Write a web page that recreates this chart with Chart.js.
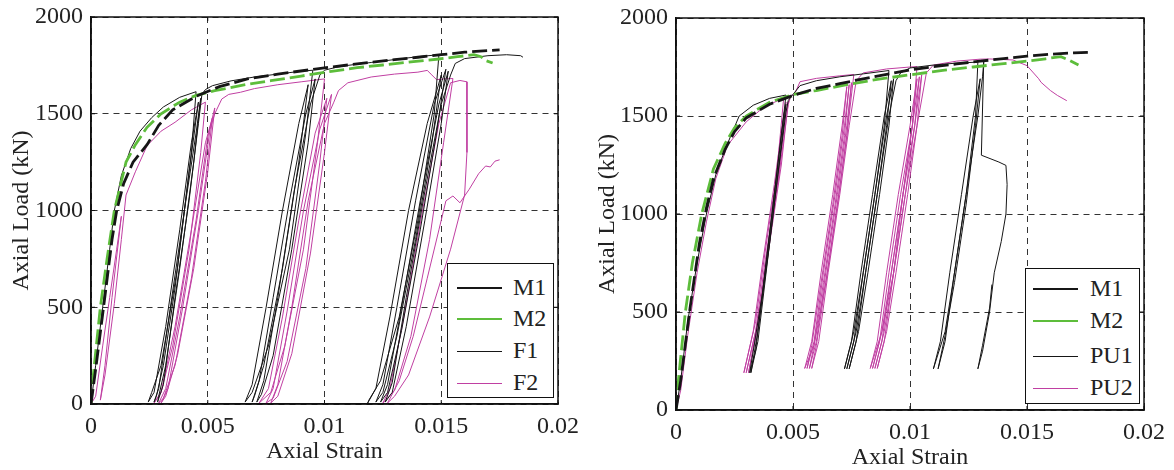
<!DOCTYPE html>
<html>
<head>
<meta charset="utf-8">
<script src="https://cdn.jsdelivr.net/npm/chart.js@4.4.0/dist/chart.umd.min.js"></script>
<style>
    body { margin: 0; background: #fff; font-family: "Liberation Serif", "Times New Roman", serif; }
    #wrap { position: relative; width: 1174px; height: 470px; overflow: hidden; }
    #wrap canvas { position: absolute; top: 0; }
    .legend { position: absolute; border: 1.5px solid #111; background: #fff; box-sizing: border-box; }
    .legend .row { position: absolute; left: 0; height: 0; }
    .legend .swatch { position: absolute; top: 0; }
    .legend .label { position: absolute; top: -14px; font-size: 24px; line-height: 27px; color: #222; white-space: nowrap; }
</style>
</head>
<body>
<div id="wrap">
    <canvas id="leftChart" width="580" height="470" style="left:0"></canvas>
    <canvas id="rightChart" width="587" height="470" style="left:587px"></canvas>
    <div class="legend" id="leftLegend" style="left:447px;top:263px;width:107px;height:135px"></div>
    <div class="legend" id="rightLegend" style="left:1025px;top:268px;width:115px;height:136px"></div>
</div>
<script>
// tick labels
const strainTicks = ['0', '0.005', '0.01', '0.015', '0.02'];
const loadTicks = ['0', '500', '1000', '1500', '2000'];
const legendLeft = ['M1', 'M2', 'F1', 'F2'];
const legendRight = ['M1', 'M2', 'PU1', 'PU2'];

// left panel: [axial strain, axial load kN]
const leftM1 = [[0,0],[0.0002,180],[0.0006,560],[0.0009,850],[0.0011,1000],[0.0014,1140],[0.0018,1250],[0.0024,1340],[0.0029,1440],[0.0035,1520],[0.0045,1590],[0.0055,1640],[0.0067,1680],[0.008,1705],[0.0096,1731],[0.011,1752],[0.012,1766],[0.013,1780],[0.014,1792],[0.015,1805],[0.016,1818],[0.017,1826],[0.0175,1830]];
const leftM2 = [[0,0],[0.0001,150],[0.0004,500],[0.0007,760],[0.001,1000],[0.0015,1250],[0.0019,1340],[0.0024,1430],[0.003,1500],[0.0038,1560],[0.0045,1595],[0.0053,1619],[0.0065,1648],[0.0077,1671],[0.009,1695],[0.0103,1719],[0.0114,1738],[0.0125,1752],[0.0137,1768],[0.0149,1783],[0.0157,1795],[0.0164,1805],[0.0167,1795],[0.0169,1775],[0.0172,1762]];
const leftF1 = [[0,0],[0.0002,200],[0.0005,500],[0.0008,800],[0.001,1000],[0.0013,1180],[0.0017,1320],[0.0021,1410],[0.0026,1480],[0.0031,1535],[0.0038,1585],[0.0045,1614],
    [0.0043,1300],[0.0037,700],[0.003,200],[0.0026,60],[0.00245,10],
    [0.0027,60],[0.0032,400],[0.0038,900],[0.0043,1350],[0.0046,1560],
    [0.0042,1200],[0.0036,600],[0.0031,200],[0.0028,40],[0.0027,10],
    [0.0029,80],[0.0034,500],[0.004,1000],[0.0045,1400],[0.0047,1580],
    [0.0044,1250],[0.0038,700],[0.0032,200],[0.0029,40],[0.00285,10],
    [0.0031,100],[0.0036,550],[0.0042,1050],[0.0046,1450],[0.00475,1600],
    [0.0049,1625],[0.0052,1645],[0.006,1670],[0.007,1690],[0.008,1705],[0.009,1720],[0.0095,1725],
    [0.0092,1400],[0.0085,800],[0.0076,300],[0.0069,60],[0.0066,10],
    [0.0069,100],[0.0075,500],[0.0082,1000],[0.0089,1450],[0.0093,1650],
    [0.0089,1250],[0.0082,700],[0.0074,200],[0.007,40],[0.0069,10],
    [0.0072,120],[0.0078,550],[0.0085,1050],[0.0092,1500],[0.0096,1680],
    [0.0093,1350],[0.0086,800],[0.0078,250],[0.0073,50],[0.0071,10],
    [0.0074,120],[0.008,550],[0.0087,1100],[0.0094,1550],[0.0098,1700],
    [0.01,1725],[0.0105,1740],[0.011,1750],[0.012,1765],[0.013,1780],[0.014,1795],[0.0149,1805],
    [0.0147,1500],[0.014,950],[0.0132,450],[0.0124,120],[0.0119,20],[0.01185,5],
    [0.0122,80],[0.0128,450],[0.0136,1000],[0.0144,1450],[0.015,1700],
    [0.0146,1350],[0.0139,850],[0.0131,350],[0.0125,60],[0.0122,10],
    [0.0125,100],[0.0131,500],[0.0139,1050],[0.0147,1550],[0.0152,1730],
    [0.0148,1400],[0.0141,900],[0.0133,380],[0.0127,60],[0.0124,10],
    [0.0127,100],[0.0133,500],[0.0141,1050],[0.0149,1550],[0.0153,1720],
    [0.015,1450],[0.0143,950],[0.0135,400],[0.0129,60],[0.0126,10],
    [0.0129,110],[0.0135,550],[0.0143,1100],[0.015,1550],[0.0154,1700],
    [0.0156,1760],[0.016,1785],[0.017,1800],[0.0178,1805],[0.0184,1800],[0.0185,1792]];
const leftF2 = [[0,0],[0.0002,40],[0.0005,300],[0.0008,550],[0.0011,800],[0.0013,970],
    [0.0009,550],[0.0006,200],[0.0004,20],[0.0006,150],[0.001,520],[0.0013,850],[0.0015,1080],
    [0.0019,1200],[0.0024,1335],[0.003,1410],[0.0036,1456],[0.0043,1520],[0.0049,1560],
    [0.0047,1300],[0.0042,800],[0.0035,300],[0.003,60],[0.0027,5],
    [0.003,60],[0.0036,400],[0.0043,900],[0.0049,1350],[0.0052,1480],
    [0.0049,1150],[0.0043,650],[0.0036,200],[0.0031,30],[0.0029,5],
    [0.0032,80],[0.0038,450],[0.0045,950],[0.005,1380],[0.0053,1530],
    [0.005,1200],[0.0044,700],[0.0037,250],[0.0032,40],[0.003,5],
    [0.0033,80],[0.0039,480],[0.0046,1000],[0.0051,1420],[0.0053,1500],
    [0.0056,1576],[0.0059,1600],[0.0064,1611],[0.007,1630],[0.008,1650],[0.009,1665],[0.01,1680],
    [0.0097,1350],[0.0091,800],[0.0083,300],[0.0077,60],[0.0072,5],
    [0.0076,80],[0.0082,450],[0.0089,950],[0.0096,1400],[0.0101,1580],
    [0.0098,1250],[0.0092,700],[0.0084,220],[0.0078,30],[0.0075,5],
    [0.0078,80],[0.0084,480],[0.0091,1000],[0.0098,1420],[0.0103,1600],
    [0.01,1300],[0.0094,780],[0.0086,260],[0.008,40],[0.0077,5],
    [0.008,100],[0.0086,500],[0.0093,1050],[0.01,1450],[0.0104,1560],
    [0.0106,1620],[0.011,1660],[0.012,1690],[0.013,1705],[0.014,1715],[0.0144,1724],[0.0146,1700],[0.0148,1676],[0.0151,1680],[0.0155,1682],
    [0.0151,1350],[0.0145,850],[0.0137,350],[0.013,70],[0.0125,5],
    [0.0128,80],[0.0134,450],[0.0142,1000],[0.0149,1450],[0.0154,1660],
    [0.0158,1672],[0.0161,1665],[0.0161,1300],[0.016,1080],
    [0.0154,800],[0.0145,450],[0.0136,150],[0.013,40],[0.0127,5],
    [0.0132,120],[0.0138,350],[0.0144,650],[0.0149,900],[0.0152,1050],[0.0155,1075],[0.0158,1040],[0.0162,1110],[0.0166,1190],[0.0169,1230],[0.0171,1225],[0.0173,1255],[0.0175,1262]];

// right panel
const rightM1 = [[0,0],[0.0002,150],[0.0006,520],[0.001,850],[0.0013,1030],[0.0016,1180],[0.0021,1330],[0.0025,1420],[0.003,1490],[0.004,1560],[0.005,1605],[0.006,1641],[0.007,1665],[0.008,1690],[0.009,1712],[0.01,1735],[0.011,1752],[0.012,1766],[0.013,1780],[0.014,1793],[0.015,1805],[0.016,1815],[0.017,1822],[0.0176,1825]];
const rightM2 = [[0,0],[0.0001,150],[0.0004,500],[0.0007,750],[0.0011,1000],[0.0016,1230],[0.0021,1360],[0.0025,1440],[0.003,1500],[0.004,1570],[0.005,1610],[0.006,1630],[0.0073,1660],[0.0086,1687],[0.01,1710],[0.0114,1733],[0.0127,1750],[0.0139,1766],[0.015,1780],[0.0158,1792],[0.01645,1803],[0.0168,1785],[0.0172,1760]];
const rightPU1 = [[0,0],[0.0002,150],[0.0005,450],[0.0009,750],[0.0013,1000],[0.0017,1200],[0.0021,1330],[0.0027,1500],[0.0033,1555],[0.004,1590],[0.0047,1607],
    [0.0045,1400],[0.0041,1000],[0.0037,600],[0.0033,300],[0.00315,190],
    [0.0034,300],[0.0038,700],[0.0042,1100],[0.0046,1500],[0.0047,1560],
    [0.0044,1250],[0.004,850],[0.0035,400],[0.0032,190],
    [0.0035,350],[0.0039,750],[0.0043,1150],[0.0047,1520],[0.0048,1580],
    [0.005,1610],[0.0053,1655],[0.006,1680],[0.007,1700],[0.008,1715],[0.0091,1732],
    [0.0089,1450],[0.0085,1100],[0.008,700],[0.0076,400],[0.0072,210],
    [0.0075,350],[0.0079,700],[0.0084,1100],[0.0089,1500],[0.0092,1680],
    [0.009,1450],[0.0086,1100],[0.0081,700],[0.0077,400],[0.0073,210],
    [0.0076,350],[0.008,700],[0.0085,1100],[0.009,1500],[0.0093,1690],
    [0.0091,1450],[0.0087,1100],[0.0082,700],[0.0078,400],[0.0074,210],
    [0.0077,350],[0.0081,700],[0.0086,1100],[0.0091,1500],[0.0094,1680],
    [0.0096,1720],[0.01,1745],[0.011,1760],[0.012,1770],[0.0129,1775],
    [0.0128,1500],[0.0124,1100],[0.0119,700],[0.0115,400],[0.011,210],
    [0.0113,350],[0.0117,700],[0.0122,1100],[0.0127,1500],[0.013,1690],
    [0.0128,1450],[0.0124,1050],[0.0119,650],[0.0115,380],[0.0112,210],
    [0.0115,350],[0.0119,700],[0.0124,1100],[0.0129,1500],[0.0131,1700],[0.01315,1775],
    [0.01305,1300],[0.0138,1265],[0.0141,1248],[0.01415,1150],[0.0141,1000],[0.0139,860],[0.0136,700],[0.0134,500],[0.0131,300],[0.0129,210],[0.0131,330],[0.0134,520],[0.0135,640]];
const rightPU2 = [[0,0],[0.0002,100],[0.0005,380],[0.0009,700],[0.0013,960],[0.0017,1180],[0.0022,1350],[0.003,1470],[0.0038,1550],[0.0046,1590],
    [0.0043,1200],[0.0038,800],[0.0034,450],[0.0029,190],
    [0.0033,400],[0.0037,750],[0.0042,1150],[0.0046,1500],[0.0047,1570],
    [0.0044,1200],[0.0039,800],[0.0035,450],[0.003,190],
    [0.0034,400],[0.0038,750],[0.0043,1150],[0.0047,1520],[0.0048,1575],
    [0.0045,1250],[0.004,850],[0.0035,450],[0.0031,190],
    [0.0035,420],[0.0039,780],[0.0044,1200],[0.0048,1560],[0.0049,1600],
    [0.0051,1620],[0.0053,1675],[0.006,1692],[0.007,1705],[0.0076,1712],
    [0.0073,1400],[0.0069,1050],[0.0064,650],[0.0059,330],[0.0055,212],
    [0.0058,350],[0.0062,700],[0.0067,1100],[0.0071,1450],[0.0073,1650],
    [0.0071,1400],[0.0067,1050],[0.0062,650],[0.0058,330],[0.0056,212],
    [0.0059,350],[0.0063,700],[0.0068,1100],[0.0072,1450],[0.0074,1660],
    [0.0072,1400],[0.0068,1050],[0.0063,650],[0.0059,330],[0.0057,212],
    [0.006,350],[0.0064,700],[0.0069,1100],[0.0073,1450],[0.0075,1670],
    [0.0073,1400],[0.0069,1050],[0.0064,650],[0.006,330],[0.0058,212],
    [0.0061,350],[0.0065,700],[0.007,1100],[0.0074,1450],[0.0077,1680],
    [0.008,1720],[0.009,1740],[0.01,1750],[0.0103,1752],
    [0.0101,1450],[0.0097,1100],[0.0092,700],[0.0088,400],[0.0083,212],
    [0.0086,350],[0.009,700],[0.0095,1100],[0.01,1450],[0.0103,1690],
    [0.0101,1450],[0.0097,1100],[0.0093,700],[0.0088,400],[0.0084,212],
    [0.0087,350],[0.0091,700],[0.0096,1100],[0.0101,1450],[0.0104,1700],
    [0.0102,1450],[0.0098,1100],[0.0093,700],[0.0089,400],[0.0085,212],
    [0.0088,350],[0.0092,700],[0.0097,1100],[0.0102,1450],[0.0105,1710],
    [0.0103,1450],[0.0099,1100],[0.0094,700],[0.009,400],[0.0086,212],
    [0.0089,350],[0.0093,700],[0.0098,1100],[0.0103,1450],[0.0107,1720],
    [0.011,1760],[0.012,1780],[0.013,1790],[0.0134,1791],[0.0144,1786],[0.015,1757],[0.0155,1690],[0.0156,1672],[0.016,1630],[0.0163,1605],[0.0167,1578]];

const BLACK = '#161616';
const GREEN = '#5dbd3b';
const MAGENTA = '#c03fa2';
const FONT = '"Liberation Serif", "Times New Roman", serif';

const styles = [
    {color: BLACK, width: 2.8, dash: [15, 5]},
    {color: GREEN, width: 2.8, dash: [15, 5]},
    {color: BLACK, width: 1},
    {color: MAGENTA, width: 1}
];

function toDataset(points, st) {
    return {
        data: points.map(p => ({x: p[0], y: p[1]})),
        showLine: true,
        borderColor: st.color,
        borderWidth: st.width,
        borderDash: st.dash || [],
        pointRadius: 0,
        tension: 0,
        fill: false
    };
}

// solid box round the plot with small inward ticks
const frame = {
    id: 'frame',
    afterDraw(chart) {
        const {ctx, chartArea: a, scales: {x, y}} = chart;
        ctx.save();
        ctx.strokeStyle = '#111';
        ctx.lineWidth = 1;
        ctx.beginPath();
        x.ticks.forEach(t => {
            const px = x.getPixelForValue(t.value);
            ctx.moveTo(px, a.bottom); ctx.lineTo(px, a.bottom - 4);
            ctx.moveTo(px, a.top); ctx.lineTo(px, a.top + 4);
        });
        y.ticks.forEach(t => {
            const py = y.getPixelForValue(t.value);
            ctx.moveTo(a.left, py); ctx.lineTo(a.left + 4, py);
            ctx.moveTo(a.right, py); ctx.lineTo(a.right - 4, py);
        });
        ctx.stroke();
        ctx.lineWidth = 1.5;
        ctx.strokeRect(a.left, a.top, a.right - a.left, a.bottom - a.top);
        ctx.restore();
    }
};

function makeChart(id, seriesList, layout) {
    const ctx = document.getElementById(id).getContext('2d');
    return new Chart(ctx, {
        type: 'scatter',
        data: {datasets: seriesList.map((s, i) => toDataset(s, styles[i]))},
        options: {
            responsive: false,
            animation: false,
            devicePixelRatio: 1,
            layout: {padding: {top: layout.top, right: layout.right, left: 0, bottom: 0}},
            plugins: {legend: {display: false}, tooltip: {enabled: false}},
            scales: {
                x: {
                    type: 'linear', min: 0, max: 0.02,
                    afterFit: s => { s.height = layout.xHeight; s.paddingLeft = 0; s.paddingRight = 0; },
                    ticks: {stepSize: 0.005, padding: 8, color: '#222', font: {family: FONT, size: 24},
                        maxRotation: 0, callback: (v, i) => strainTicks[i]},
                    grid: {color: '#333', lineWidth: 1, drawTicks: false},
                    border: {display: true, color: '#111', width: 1.5, dash: [6, 5]},
                    title: {display: true, text: 'Axial Strain', color: '#222',
                        font: {family: FONT, size: 24, lineHeight: 1}, padding: {top: 0, bottom: layout.xTitlePad}}
                },
                y: {
                    type: 'linear', min: 0, max: 2000,
                    afterFit: s => { s.width = layout.yWidth; s.paddingTop = 0; s.paddingBottom = 0; },
                    ticks: {stepSize: 500, padding: 8, color: '#222', font: {family: FONT, size: 24},
                        callback: (v, i) => loadTicks[i]},
                    grid: {color: '#333', lineWidth: 1, drawTicks: false},
                    border: {display: true, color: '#111', width: 1.5, dash: [6, 5]},
                    title: {display: true, text: 'Axial Load (kN)', color: '#222',
                        font: {family: FONT, size: 24, lineHeight: 1}, padding: {top: layout.yTitlePad, bottom: 0}}
                }
            }
        },
        plugins: [frame]
    });
}

makeChart('leftChart', [leftM1, leftM2, leftF1, leftF2],
    {top: 17, right: 22, yWidth: 91, xHeight: 66, xTitlePad: 6, yTitlePad: 10});
makeChart('rightChart', [rightM1, rightM2, rightPU1, rightPU2],
    {top: 18, right: 30, yWidth: 89, xHeight: 60, xTitlePad: 0, yTitlePad: 9});

function buildLegend(id, names, rowsY, swLeft, textLeft) {
    const box = document.getElementById(id);
    names.forEach((name, i) => {
        const st = styles[i];
        const row = document.createElement('div');
        row.className = 'row';
        row.style.top = rowsY[i] + 'px';
        row.style.width = '100%';
        row.innerHTML = `<div class="swatch" style="left:${swLeft}px;width:45px;border-top:${st.width}px solid ${st.color};margin-top:${-st.width / 2}px"></div>
            <div class="label" style="left:${textLeft}px">${name}</div>`;
        box.appendChild(row);
    });
}

buildLegend('leftLegend', legendLeft, [24, 55, 87, 119], 9, 65);
buildLegend('rightLegend', legendRight, [20, 52, 87, 119], 7, 64);
</script>
</body>
</html>
